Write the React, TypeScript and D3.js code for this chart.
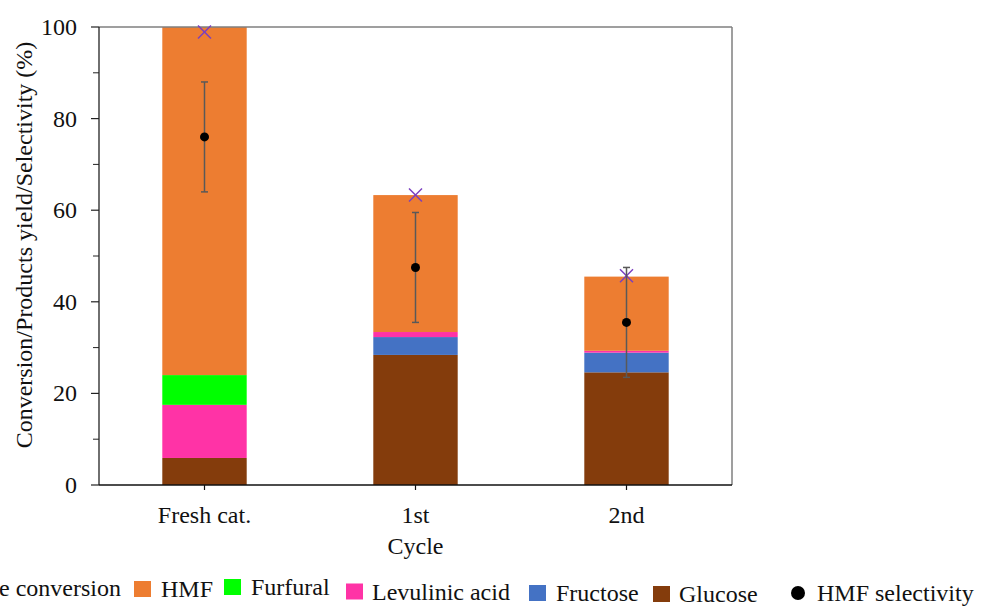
import React from "react";
import * as d3 from "d3";

// Cycle categories and product distribution (%)
const categories = ["Fresh cat.", "1st", "2nd"];
const glucose = [5.9, 28.4, 24.6];
const fructose = [0, 3.9, 4.3];
const levulinicAcid = [11.6, 1.1, 0.4];
const furfural = [6.5, 0, 0];
const hmf = [76.0, 29.9, 16.2];
const glucoseConversion = [98.9, 63.3, 45.7];
const hmfSelectivity = [76.0, 47.5, 35.5];
const hmfSelectivityErr = [12.0, 12.0, 12.0];

const yTicks = [0, 20, 40, 60, 80, 100];
const yMinorTicks = [10, 30, 50, 70, 90];

const seriesKeys = ["Glucose", "Fructose", "Levulinic acid", "Furfural", "HMF"];
const seriesColors: Record<string, string> = {
  Glucose: "#843C0C",
  Fructose: "#4472C4",
  "Levulinic acid": "#FF33A6",
  Furfural: "#00FF00",
  HMF: "#ED7D31",
};

const W = 981;
const H = 606;
const M = { left: 99, right: 732, top: 27, bottom: 485 };
const FONT = "'Liberation Serif', 'Times New Roman', serif";

// Legend layout: x of marker, x of text, text baseline
const legendLayout = [
  { key: "Glucose conversion", kind: "x", mx: -90, tx: -69, y: 596 },
  { key: "HMF", kind: "rect", mx: 134, tx: 161, y: 597 },
  { key: "Furfural", kind: "rect", mx: 224, tx: 251, y: 595 },
  { key: "Levulinic acid", kind: "rect", mx: 346, tx: 372, y: 599.5 },
  { key: "Fructose", kind: "rect", mx: 529, tx: 556, y: 601 },
  { key: "Glucose", kind: "rect", mx: 653, tx: 679, y: 602 },
  { key: "HMF selectivity", kind: "dot", mx: 798, tx: 817, y: 601 },
];

export default function App() {
  const x = d3
    .scaleBand<string>()
    .domain(categories)
    .range([M.left, M.right])
    .paddingInner(0.6)
    .paddingOuter(0.3);
  const y = d3.scaleLinear().domain([0, 100]).range([M.bottom, M.top]);

  const rows = categories.map((c, i) => ({
    cat: c,
    Glucose: glucose[i],
    Fructose: fructose[i],
    "Levulinic acid": levulinicAcid[i],
    Furfural: furfural[i],
    HMF: hmf[i],
  }));
  const stacked = d3.stack<any>().keys(seriesKeys)(rows);

  const cx = (c: string) => (x(c) as number) + x.bandwidth() / 2;
  const xs = 6.5;

  return (
    <svg
      width={W}
      height={H}
      style={{ position: "absolute", left: 0, top: 0, background: "#fff" }}
      fontFamily={FONT}
    >
      {/* stacked bars */}
      {stacked.map((layer) => (
        <g key={layer.key} fill={seriesColors[layer.key]}>
          {layer.map((d, i) =>
            d[1] - d[0] > 0 ? (
              <rect
                key={i}
                x={x(categories[i])}
                width={x.bandwidth()}
                y={y(d[1])}
                height={y(d[0]) - y(d[1])}
              />
            ) : null
          )}
        </g>
      ))}

      {/* frame */}
      <line x1={M.left} x2={M.right} y1={M.top} y2={M.top} stroke="#7f7f7f" strokeWidth={1.5} />
      <line x1={M.right} x2={M.right} y1={M.top} y2={M.bottom} stroke="#7f7f7f" strokeWidth={1.5} />

      {/* y axis */}
      <line x1={M.left} x2={M.left} y1={M.top} y2={M.bottom} stroke="#222" strokeWidth={1.3} />
      {yTicks.map((t) => (
        <g key={t}>
          <line x1={M.left - 8} x2={M.left} y1={y(t)} y2={y(t)} stroke="#222" strokeWidth={1.2} />
          <text x={77} y={y(t)} dy="0.33em" textAnchor="end" fontSize={24} fill="#111">
            {t}
          </text>
        </g>
      ))}
      {yMinorTicks.map((t) => (
        <line key={t} x1={M.left - 6} x2={M.left} y1={y(t)} y2={y(t)} stroke="#222" strokeWidth={1} />
      ))}
      <text
        transform={`translate(32,245) rotate(-90)`}
        textAnchor="middle"
        fontSize={24}
        fill="#111"
      >
        Conversion/Products yield/Selectivity (%)
      </text>

      {/* x axis */}
      <line x1={M.left} x2={M.right} y1={M.bottom} y2={M.bottom} stroke="#111" strokeWidth={1.5} />
      {categories.map((c) => (
        <g key={c}>
          <line x1={cx(c)} x2={cx(c)} y1={M.bottom} y2={M.bottom + 5} stroke="#111" strokeWidth={1.2} />
          <text x={cx(c)} y={523} textAnchor="middle" fontSize={24} fill="#111">
            {c}
          </text>
        </g>
      ))}
      <text x={(M.left + M.right) / 2} y={554} textAnchor="middle" fontSize={24} fill="#111">
        Cycle
      </text>

      {/* glucose conversion markers */}
      {categories.map((c, i) => {
        const px = cx(c);
        const py = y(glucoseConversion[i]);
        return (
          <g key={c} stroke="#7A3FC0" strokeWidth={1.5}>
            <line x1={px - xs} x2={px + xs} y1={py - xs} y2={py + xs} />
            <line x1={px - xs} x2={px + xs} y1={py + xs} y2={py - xs} />
          </g>
        );
      })}

      {/* HMF selectivity with error bars */}
      {categories.map((c, i) => {
        const px = cx(c);
        const hi = y(hmfSelectivity[i] + hmfSelectivityErr[i]);
        const lo = y(hmfSelectivity[i] - hmfSelectivityErr[i]);
        return (
          <g key={c}>
            <g stroke="#595959" strokeWidth={1.5}>
              <line x1={px} x2={px} y1={hi} y2={lo} />
              <line x1={px - 3.5} x2={px + 3.5} y1={hi} y2={hi} />
              <line x1={px - 3.5} x2={px + 3.5} y1={lo} y2={lo} />
            </g>
            <circle cx={px} cy={y(hmfSelectivity[i])} r={4.5} fill="#000" />
          </g>
        );
      })}

      {/* legend */}
      {legendLayout.map((l) => (
        <g key={l.key}>
          {l.kind === "rect" && (
            <rect x={l.mx} y={l.y - 16} width={17} height={16} fill={seriesColors[l.key]} />
          )}
          {l.kind === "dot" && <circle cx={l.mx} cy={l.y - 8} r={7} fill="#000" />}
          {l.kind === "x" && (
            <g stroke="#7A3FC0" strokeWidth={1.5}>
              <line x1={l.mx - xs} x2={l.mx + xs} y1={l.y - 8 - xs} y2={l.y - 8 + xs} />
              <line x1={l.mx - xs} x2={l.mx + xs} y1={l.y - 8 + xs} y2={l.y - 8 - xs} />
            </g>
          )}
          <text x={l.tx} y={l.y} fontSize={24} fill="#111">
            {l.key}
          </text>
        </g>
      ))}
    </svg>
  );
}
